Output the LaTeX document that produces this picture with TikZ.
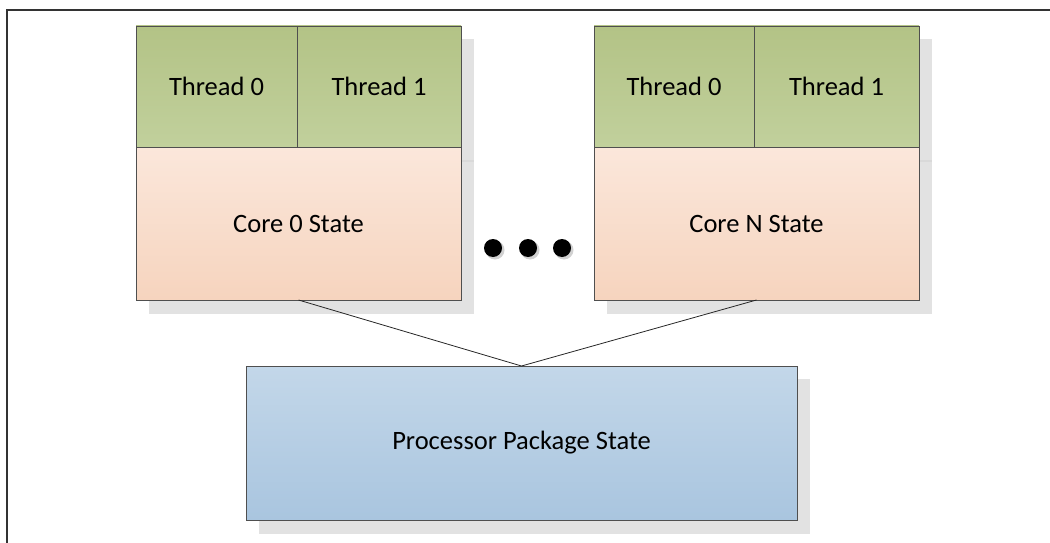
\documentclass[tikz,border=0pt]{standalone}
\usepackage{fontspec}
\setmainfont{Carlito}
\usetikzlibrary{positioning}
\definecolor{edgec}{HTML}{4F4F4F}
\definecolor{shadowc}{HTML}{E2E2E2}
\definecolor{greentop}{HTML}{B3C386}
\definecolor{greenbot}{HTML}{C1D09C}
\definecolor{peachtop}{HTML}{FBE7DB}
\definecolor{peachbot}{HTML}{F6D4BE}
\definecolor{bluetop}{HTML}{C3D7E9}
\definecolor{bluebot}{HTML}{A9C5DF}
\begin{document}
\begin{tikzpicture}[x=1pt,y=-1pt,
  every node/.style={inner sep=0pt,outer sep=0pt,font=\fontsize{26.5}{31}\selectfont},
  box/.style={draw=edgec,line width=0.9pt,anchor=north west},
  threadbox/.style={box,top color=greentop,bottom color=greenbot,minimum height=121pt},
  corebox/.style={box,top color=peachtop,bottom color=peachbot,minimum width=325pt,minimum height=153pt},
  pkgbox/.style={box,top color=bluetop,bottom color=bluebot,minimum width=551pt,minimum height=154pt},
  dotc/.style={circle,fill=black,minimum size=18pt},
  link/.style={draw=black!85,line width=0.8pt}]
\useasboundingbox (0,0) rectangle (1050,543);
% outer frame (clipped)
\draw[line width=1.6pt,draw=black!80] (7,543) -- (7,10) -- (1050,10);
% shadows
\fill[shadowc] (149,39) rectangle (474,160);
\fill[shadowc!96!black] (149,160) rectangle (474,162);
\fill[shadowc] (149,162) rectangle (474,314);
\fill[shadowc] (607,39) rectangle (932,160);
\fill[shadowc!96!black] (607,160) rectangle (932,162);
\fill[shadowc] (607,162) rectangle (932,314);
\fill[shadowc] (259,379) rectangle (810,534);
\fill[black!18] (495,250) circle (9.5);
\fill[black!18] (530,250) circle (9.5);
\fill[black!18] (564,250) circle (9.5);
% core 0
\node[threadbox,minimum width=161pt] (t00) at (136,26) {Thread 0};
\node[threadbox,minimum width=164pt] (t01) at (297,26) {Thread 1};
\node[corebox] (c0) at (136,147) {Core 0 State};
% core N
\node[threadbox,minimum width=160pt] (tN0) at (594,26) {Thread 0};
\node[threadbox,minimum width=165pt] (tN1) at (754,26) {Thread 1};
\node[corebox] (cN) at (594,147) {Core N State};
% dots
\node[dotc] (d1) at (493,248) {};
\node[dotc] (d2) at (528,248) {};
\node[dotc] (d3) at (562,248) {};
% package
\node[pkgbox] (pkg) at (246,366) {Processor Package State};
% connectors
\draw[link] (c0.south) -- (pkg.north);
\draw[link] (cN.south) -- (pkg.north);
\end{tikzpicture}
\end{document}
